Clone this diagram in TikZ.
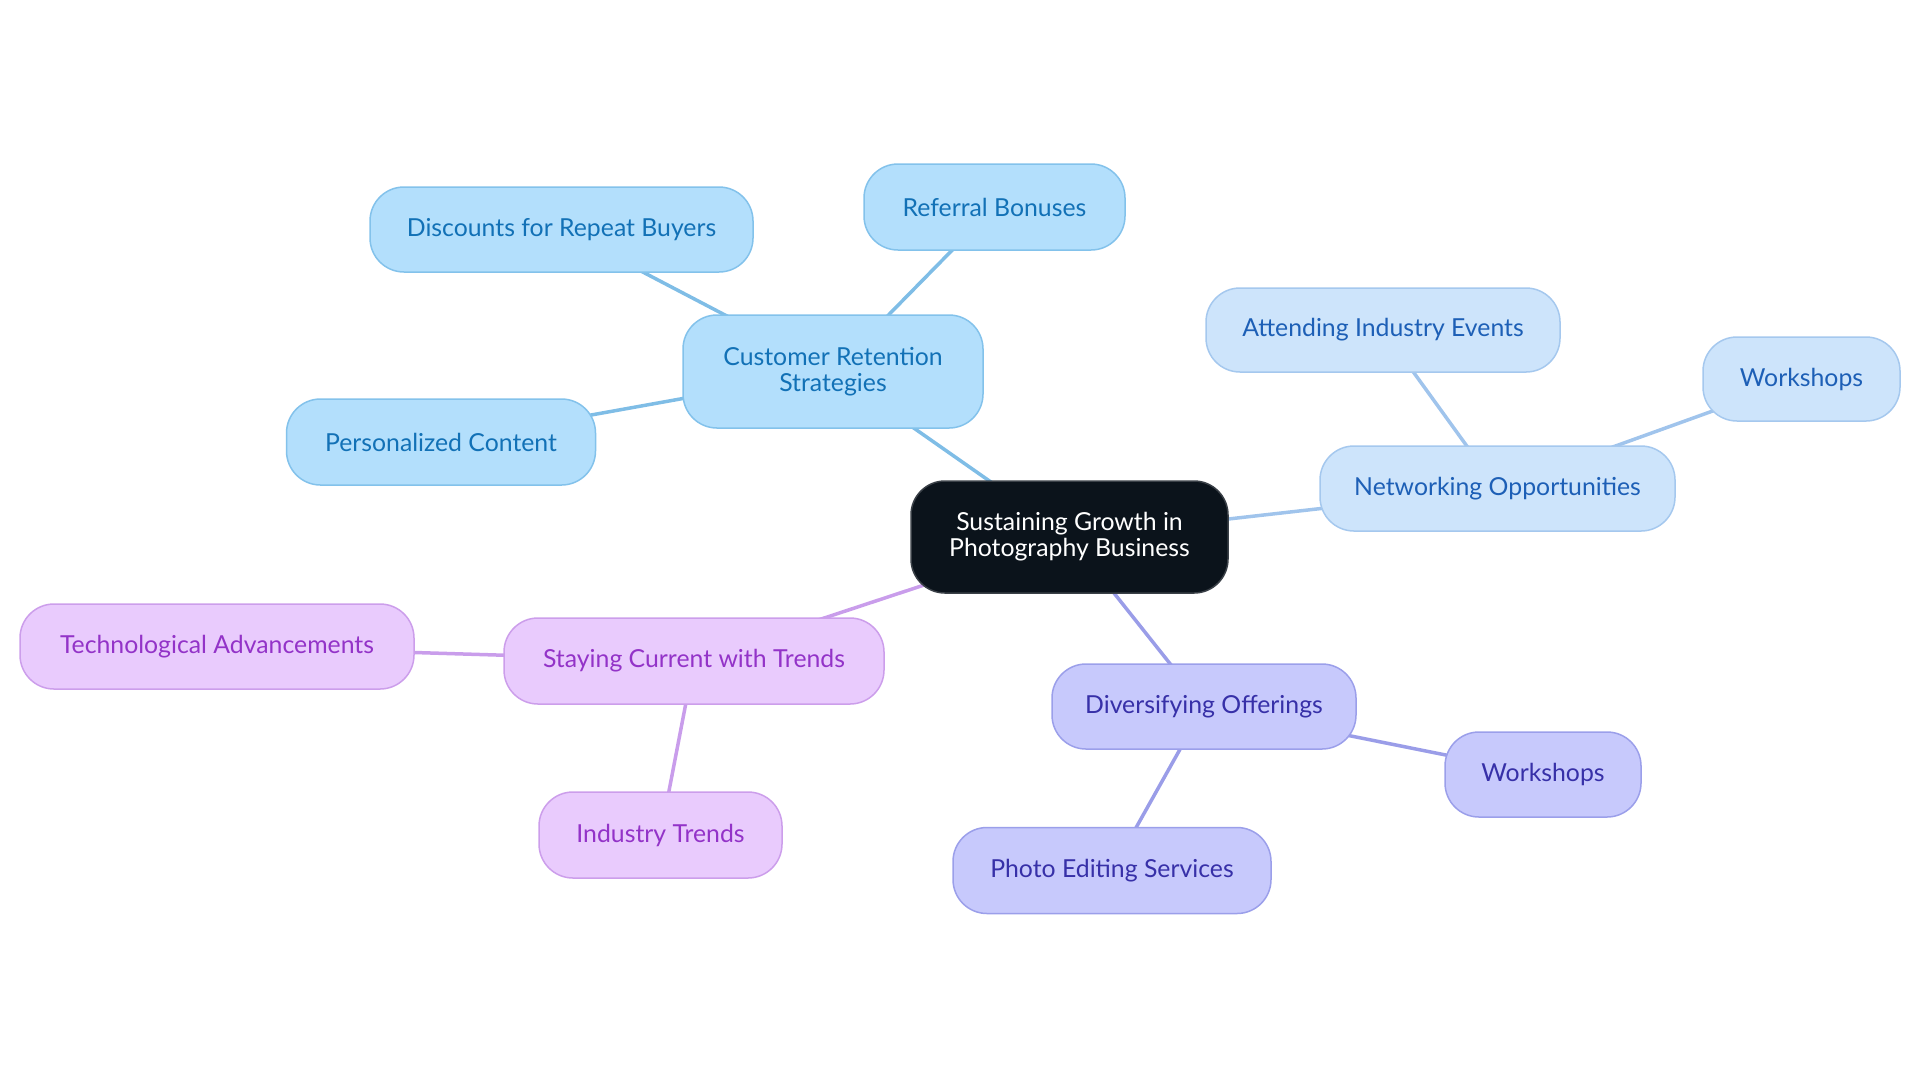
\documentclass[tikz,border=0pt]{standalone}
\usepackage{fontspec}
\setmainfont{Lato}
\usetikzlibrary{backgrounds}
\definecolor{cfill}{HTML}{0B131B}
\definecolor{cborder}{HTML}{3A4047}
\definecolor{bfill}{HTML}{B3DFFC}
\definecolor{bborder}{HTML}{83C2EB}
\definecolor{btext}{HTML}{1271B6}
\definecolor{bline}{HTML}{7FBDE6}
\definecolor{nfill}{HTML}{CDE4FB}
\definecolor{nborder}{HTML}{A5C8EE}
\definecolor{ntext}{HTML}{1D5FB6}
\definecolor{nline}{HTML}{A0C4EC}
\definecolor{sfill}{HTML}{E9CBFD}
\definecolor{sborder}{HTML}{CC9EEB}
\definecolor{stext}{HTML}{9333C8}
\definecolor{sline}{HTML}{C99DEB}
\definecolor{dfill}{HTML}{C7C9FC}
\definecolor{dborder}{HTML}{9B9FEA}
\definecolor{dtext}{HTML}{3730A8}
\definecolor{dline}{HTML}{9A9DE8}
\tikzset{
  box/.style={rectangle, rounded corners=17pt, line width=0.75pt, inner sep=0pt,
    align=center, font=\fontsize{12.4}{13}\selectfont},
  centerbox/.style={box, fill=cfill, draw=cborder, text=white},
  bluebox/.style={box, fill=bfill, draw=bborder, text=btext},
  netbox/.style={box, fill=nfill, draw=nborder, text=ntext},
  staybox/.style={box, fill=sfill, draw=sborder, text=stext},
  divbox/.style={box, fill=dfill, draw=dborder, text=dtext},
  link/.style={line width=1.75pt},
}
\begin{document}
\begin{tikzpicture}[x=0.5pt,y=-0.5pt]
\useasboundingbox (0,0) rectangle (1920,1083);
\node[centerbox, minimum width=158.5pt, minimum height=56pt] (c) at (1069.5,537) {Sustaining Growth in\\Photography Business};
\node[bluebox, minimum width=150pt, minimum height=56.5pt] (cr) at (833,371.5) {Customer Retention\\Strategies};
\node[bluebox, minimum width=191.5pt, minimum height=42.5pt] (disc) at (561.5,229.5) {Discounts for Repeat Buyers};
\node[bluebox, minimum width=130.5pt, minimum height=43pt] (ref) at (994.5,207) {Referral Bonuses};
\node[bluebox, minimum width=154.5pt, minimum height=43pt] (pers) at (441,442) {Personalized Content};
\node[netbox, minimum width=177.5pt, minimum height=42.5pt] (net) at (1497.5,488.5) {Networking Opportunities};
\node[netbox, minimum width=98.5pt, minimum height=42pt] (wn) at (1801.5,379) {Workshops};
\node[netbox, minimum width=177pt, minimum height=42pt] (att) at (1383,330) {Attending Industry Events};
\node[staybox, minimum width=190pt, minimum height=43pt] (stay) at (694,661) {Staying Current with Trends};
\node[staybox, minimum width=197pt, minimum height=42.5pt] (tech) at (217,646.5) {Technological Advancements};
\node[staybox, minimum width=121.5pt, minimum height=43pt] (ind) at (660.5,835) {Industry Trends};
\node[divbox, minimum width=152pt, minimum height=42.5pt] (div) at (1204,706.5) {Diversifying Offerings};
\node[divbox, minimum width=98pt, minimum height=42.5pt] (wd) at (1543,774.5) {Workshops};
\node[divbox, minimum width=159pt, minimum height=43pt] (photo) at (1112,870.5) {Photo Editing Services};
\begin{scope}[on background layer]
\draw[link, bline] (c.center) -- (cr.center);
\draw[link, bline] (cr.center) -- (disc.center);
\draw[link, bline] (cr.center) -- (ref.center);
\draw[link, bline] (cr.center) -- (pers.center);
\draw[link, nline] (c.center) -- (net.center);
\draw[link, nline] (net.center) -- (wn.center);
\draw[link, nline] (net.center) -- (att.center);
\draw[link, sline] (c.center) -- (stay.center);
\draw[link, sline] (stay.center) -- (tech.center);
\draw[link, sline] (stay.center) -- (ind.center);
\draw[link, dline] (c.center) -- (div.center);
\draw[link, dline] (div.center) -- (wd.center);
\draw[link, dline] (div.center) -- (photo.center);
\end{scope}
\end{tikzpicture}
\end{document}
